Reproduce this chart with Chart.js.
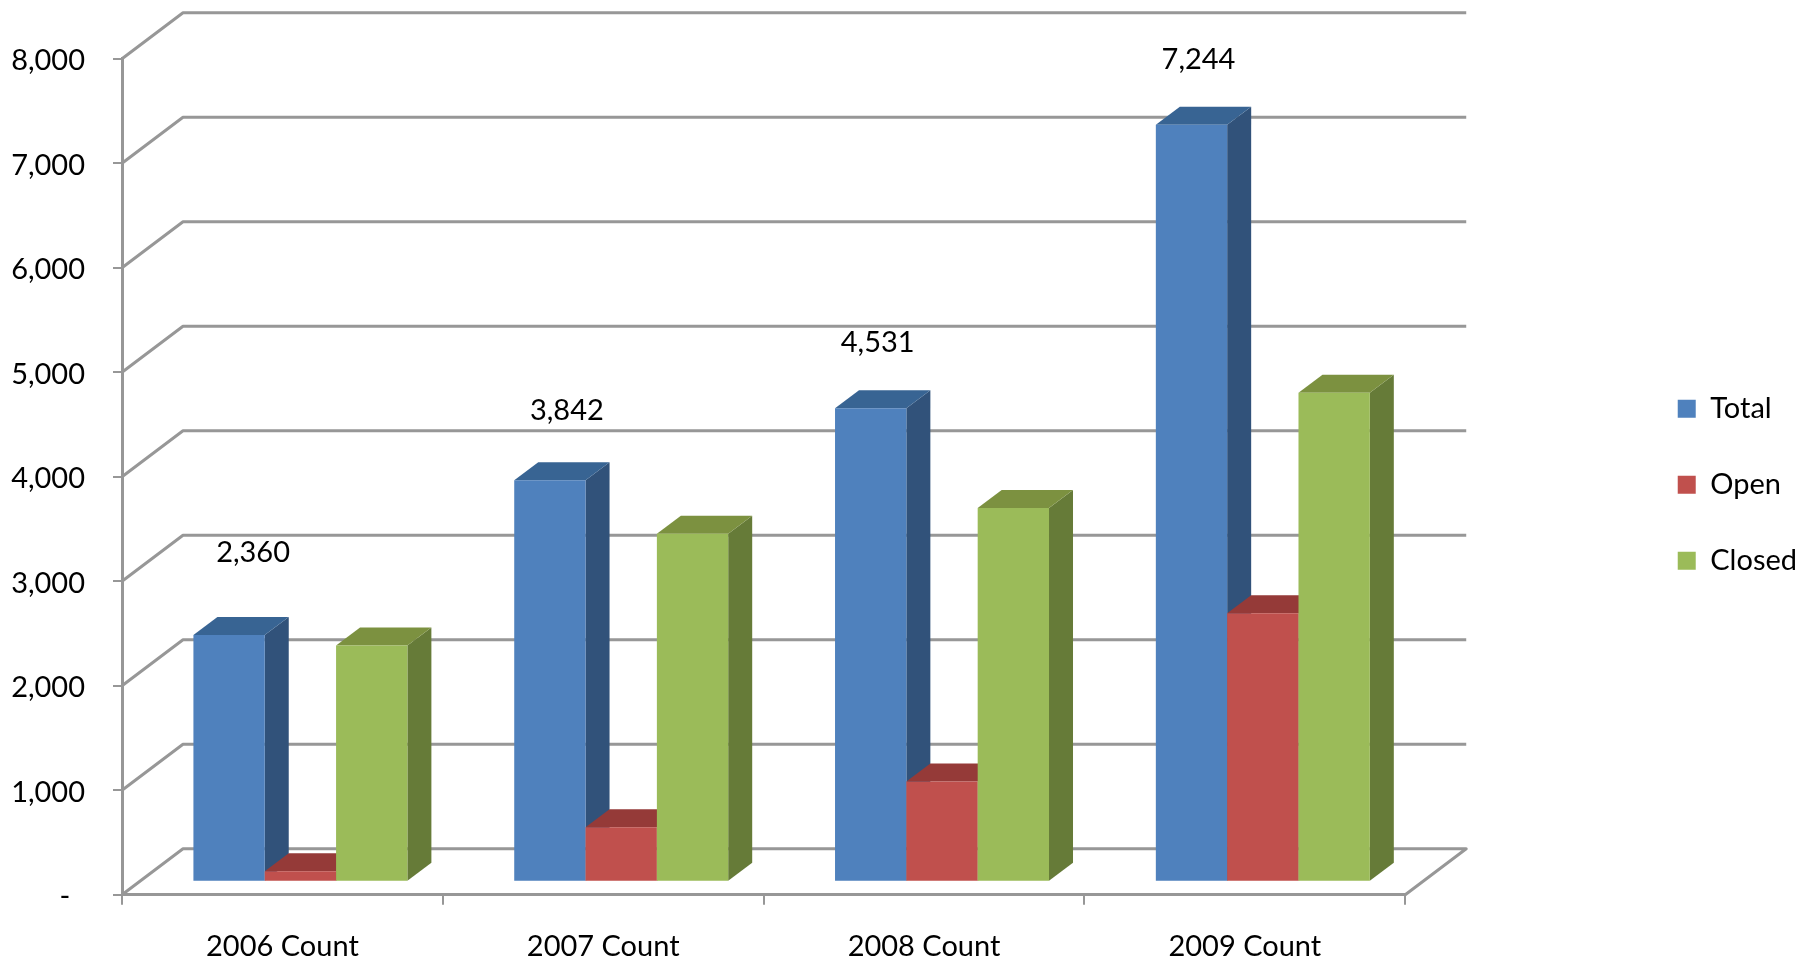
<!DOCTYPE html>
<html>
<head>
<meta charset="utf-8">
<title>Count by year</title>
<script src="https://cdn.jsdelivr.net/npm/chart.js@4"></script>
<style>
  html, body { margin: 0; padding: 0; background: #fff; }
  #wrap { width: 1807px; height: 966px; }
</style>
</head>
<body>
<div id="wrap"><canvas id="countChart" width="1807" height="966"></canvas></div>
<script>
const categories = ['2006 Count', '2007 Count', '2008 Count', '2009 Count'];
const totalValues = [2360, 3842, 4531, 7244];
const openValues = [100, 520, 960, 2570];
const closedValues = [2260, 3330, 3575, 4680];
const yTickLabels = ['-  ', '1,000', '2,000', '3,000', '4,000', '5,000', '6,000', '7,000', '8,000'];
const totalLabels = ['2,360', '3,842', '4,531', '7,244'];

const textFont = 'Lato, "Open Sans", sans-serif';
const fontSize = 29;
const gridColor = '#979797';
const gridWidth = 3;

// fake 3d: how far the walls and bars go back
const wall = { dx: 61, dy: 46 };
const barPlane = { dx: 18, dy: -13 };
const barDepth = { dx: 24, dy: 18 };
// the total labels do not sit at one fixed spot over their bars
const labelLift = [82, 70, 66, 65];
const labelShift = [24, 17, 7, 7];

const sideColors = ['#31527a', '#8a3836', '#667b38'];
const topColors = ['#386493', '#953a38', '#7c9140'];

function drawWalls(chart) {
    const { ctx, chartArea, scales } = chart;
    ctx.save();
    ctx.strokeStyle = gridColor;
    ctx.lineWidth = gridWidth;
    ctx.lineJoin = 'round';
    scales.y.ticks.forEach((tick) => {
        const y = scales.y.getPixelForValue(tick.value);
        ctx.beginPath();
        ctx.moveTo(chartArea.left, y);
        ctx.lineTo(chartArea.left + wall.dx, y - wall.dy);
        ctx.lineTo(chartArea.right + wall.dx, y - wall.dy);
        if (tick.value === 0) {
            ctx.lineTo(chartArea.right, y);
        }
        ctx.stroke();
    });
    ctx.restore();
}

function drawBarDepth(ctx, bar, i) {
    const left = bar.x - bar.width / 2;
    const right = bar.x + bar.width / 2;
    ctx.fillStyle = sideColors[i];
    ctx.beginPath();
    ctx.moveTo(right, bar.y);
    ctx.lineTo(right + barDepth.dx, bar.y - barDepth.dy);
    ctx.lineTo(right + barDepth.dx, bar.base - barDepth.dy);
    ctx.lineTo(right, bar.base);
    ctx.closePath();
    ctx.fill();
    ctx.fillStyle = topColors[i];
    ctx.beginPath();
    ctx.moveTo(left, bar.y);
    ctx.lineTo(left + barDepth.dx, bar.y - barDepth.dy);
    ctx.lineTo(right + barDepth.dx, bar.y - barDepth.dy);
    ctx.lineTo(right, bar.y);
    ctx.closePath();
    ctx.fill();
}

// chart.js paints the last dataset first, here the first one has to go under the others
const bars3d = {
    id: 'bars3d',
    beforeDatasetsDraw(chart) {
        const { ctx } = chart;
        drawWalls(chart);
        ctx.save();
        ctx.translate(barPlane.dx, barPlane.dy);
        chart.data.datasets.forEach((ds, i) => {
            const meta = chart.getDatasetMeta(i);
            meta.data.forEach((bar) => drawBarDepth(ctx, bar, i));
            meta.controller.draw();
        });
        ctx.fillStyle = '#000';
        ctx.font = fontSize + 'px ' + textFont;
        ctx.textAlign = 'center';
        ctx.textBaseline = 'middle';
        chart.getDatasetMeta(0).data.forEach((bar, i) => {
            ctx.fillText(totalLabels[i], bar.x + labelShift[i], bar.y - labelLift[i]);
        });
        ctx.restore();
        return false;
    }
};

new Chart(document.getElementById('countChart').getContext('2d'), {
    type: 'bar',
    data: {
        labels: categories,
        datasets: [
            { label: 'Total', data: totalValues, backgroundColor: '#4f81bd' },
            { label: 'Open', data: openValues, backgroundColor: '#c0504d' },
            { label: 'Closed', data: closedValues, backgroundColor: '#9bbb59' }
        ]
    },
    plugins: [bars3d],
    options: {
        responsive: false,
        animation: false,
        devicePixelRatio: 1,
        categoryPercentage: 0.667,
        barPercentage: 1,
        layout: { padding: { top: 58.7, bottom: 0, left: 0, right: 0 } },
        scales: {
            x: {
                grid: { offset: true, drawOnChartArea: false, color: gridColor, lineWidth: 2, tickLength: 10 },
                border: { color: gridColor, width: gridWidth },
                ticks: { color: '#000', font: { family: textFont, size: fontSize }, padding: 25, maxRotation: 0 },
                afterFit(scale) { scale.height = 71.3; }
            },
            y: {
                min: 0,
                max: 8000,
                grid: { drawOnChartArea: false, color: gridColor, lineWidth: 2, tickLength: 9 },
                border: { color: gridColor, width: gridWidth },
                ticks: {
                    stepSize: 1000,
                    padding: 28,
                    labelOffset: 2,
                    color: '#000',
                    font: { family: textFont, size: fontSize },
                    callback: (value) => yTickLabels[value / 1000]
                },
                afterFit(scale) { scale.width = 122; }
            },
            // empty axis, only keeps the gap between plot and legend
            gap: {
                type: 'linear',
                position: 'right',
                grid: { display: false },
                border: { display: false },
                ticks: { display: false },
                afterFit(scale) { scale.width = 225.5; }
            }
        },
        plugins: {
            tooltip: { enabled: false },
            legend: {
                position: 'right',
                fullSize: false,
                // blank title nudges the items down inside the legend box
                title: { display: true, text: ' ', font: { size: 10 }, padding: 2 },
                labels: {
                    color: '#000',
                    font: { family: textFont, size: fontSize },
                    boxWidth: 18,
                    boxHeight: 18,
                    padding: 47
                }
            }
        }
    }
});
</script>
</body>
</html>
